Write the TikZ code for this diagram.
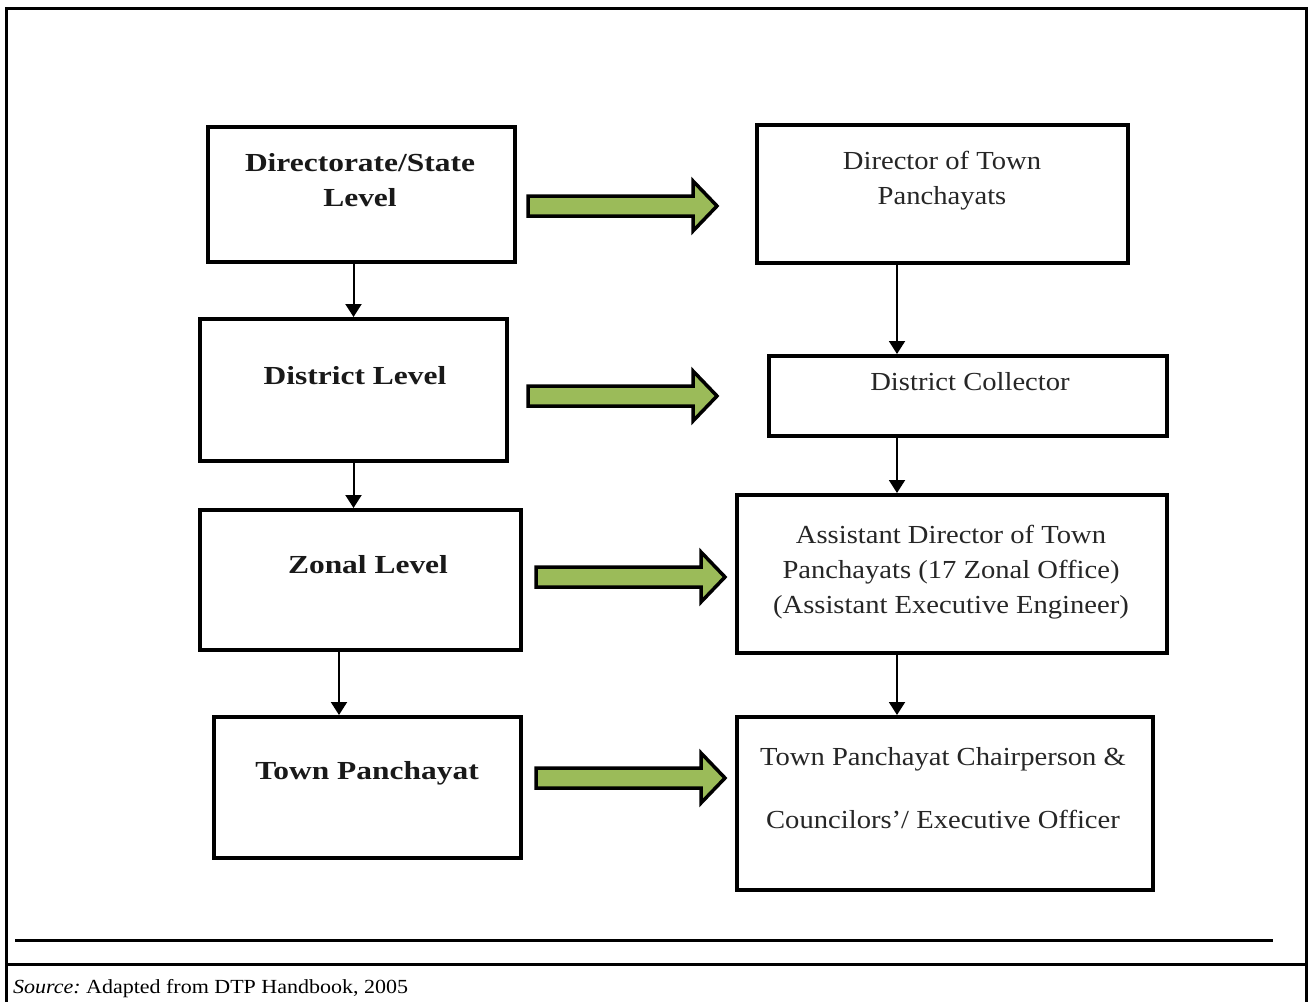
\documentclass[tikz,border=0pt]{standalone}
\usepackage{fontspec}
\setmainfont{Liberation Serif}[FakeStretch=1.1,BoldFeatures={FakeStretch=1.21}]
\usetikzlibrary{arrows.meta,calc}

\definecolor{arrowgreen}{HTML}{9BBB59}

\tikzset{
  box/.style={draw=black, line width=4pt, fill=white, inner sep=0pt},
  boldtxt/.style={font=\fontsize{26}{35}\selectfont\bfseries, align=center, text=black!90},
  plaintxt/.style={font=\fontsize{26}{35}\selectfont, align=center, text=black!85},
  thinarrow/.style={draw=black, line width=2pt, -{Triangle[width=16pt,length=13pt]}},
  fatarrow/.pic={
    \draw[fill=arrowgreen, draw=black, line width=3.5pt, line join=miter]
      (0,-10) -- (165,-10) -- (165,-25) -- (189,0) -- (165,25) -- (165,10) -- (0,10) -- cycle;
  },
  rule/.style={draw=black, line width=3pt}
}

\begin{document}
\begin{tikzpicture}[x=1pt, y=-1pt]
  \useasboundingbox (0,0) rectangle (1314,1001);

  % outer frame and rules
  \begin{scope}
    \clip (0,0) rectangle (1314,1001);
    \draw[rule] (6,8) rectangle (1306,1020);
  \end{scope}
  \draw[rule] (6,964) -- (1306,964);
  \draw[rule] (15,940) -- (1273,940);

  % left column boxes
  \node[box, minimum width=307pt, minimum height=135pt] (l1) at (361.5,194.5) {};
  \node[box, minimum width=307pt, minimum height=142pt] (l2) at (353.5,390) {};
  \node[box, minimum width=321pt, minimum height=140pt] (l3) at (360.5,580) {};
  \node[box, minimum width=307pt, minimum height=141pt] (l4) at (367.5,787.5) {};

  % right column boxes
  \node[box, minimum width=371pt, minimum height=138pt] (r1) at (942.5,194) {};
  \node[box, minimum width=398pt, minimum height=80pt]  (r2) at (968,396) {};
  \node[box, minimum width=430pt, minimum height=158pt] (r3) at (952,574) {};
  \node[box, minimum width=416pt, minimum height=173pt] (r4) at (945,803.5) {};

  % box texts
  \node[boldtxt] (tl1) at (360,180.5) {Directorate/State\\Level};
  \node[boldtxt] (tl2) at (355,376) {District Level};
  \node[boldtxt] (tl3) at (368,565) {Zonal Level};
  \node[boldtxt] (tl4) at (367,773) {Town Panchayat};

  \node[plaintxt] (tr1) at (942,180.5) {Director of Town\\Panchayats};
  \node[plaintxt] (tr2) at (970,382) {District Collector};
  \node[plaintxt] (tr3) at (951,572.5) {Assistant Director of Town\\Panchayats (17 Zonal Office)\\(Assistant Executive Engineer)};
  \node[plaintxt] (tr4) at (943,788.5) {Town Panchayat Chairperson \&\\[28pt]Councilors'/ Executive Officer};

  % vertical connectors
  \coordinate (cl) at (339,0);
  \coordinate (cr) at (897,0);
  \draw[thinarrow] (l1.south -| l2.north) -- (l2.north);
  \draw[thinarrow] (l2.south) -- (l2.south |- l3.north);
  \draw[thinarrow] (l3.south -| cl) -- (l4.north -| cl);
  \draw[thinarrow] (r1.south -| cr) -- (r2.north -| cr);
  \draw[thinarrow] (r2.south -| cr) -- (r3.north -| cr);
  \draw[thinarrow] (r3.south -| cr) -- (r4.north -| cr);

  % horizontal block arrows between the columns
  \pic at (528,206) {fatarrow};
  \pic at (528,396) {fatarrow};
  \pic at (536,577) {fatarrow};
  \pic at (536,778) {fatarrow};

  % source note
  \node[anchor=base west, inner sep=0pt, font=\fontsize{20}{24}\selectfont] (src) at (13,993)
    {\textit{Source:}\hspace{-2pt} Adapted from DTP Handbook, 2005};
\end{tikzpicture}
\end{document}
